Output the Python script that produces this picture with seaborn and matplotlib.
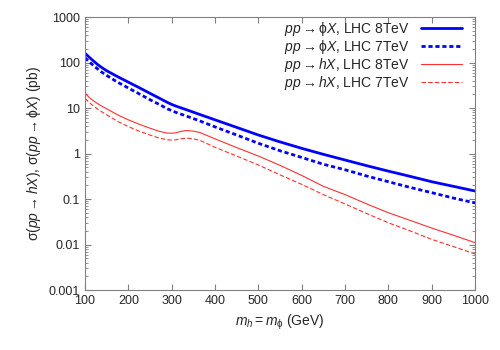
import numpy as np
import pandas as pd
import matplotlib
matplotlib.use('Agg')
import matplotlib.pyplot as plt
import seaborn as sns

# masas (GeV) y secciones eficaces (pb)
mass_phi = [100, 110, 120, 130, 140, 150, 175, 200, 225, 250, 275, 290, 300, 310,
            335, 365, 400, 450, 500, 550, 600, 650, 700, 750, 800, 850, 900,
            950, 1000]
phi_8tev = [160, 130, 107, 89, 76, 66, 49, 37, 28, 21, 15.8, 13.3, 12.0, 11.0,
            9.1, 7.2, 5.5, 3.75, 2.55, 1.8, 1.3, 0.96, 0.72, 0.54, 0.41, 0.315,
            0.24, 0.19, 0.15]
phi_7tev = [127, 103, 85, 71, 60, 52, 37, 27.5, 20.5, 15.2, 11.5, 9.6, 8.8, 8.0,
            6.6, 5.2, 3.85, 2.55, 1.68, 1.15, 0.82, 0.58, 0.44, 0.32, 0.24, 0.18,
            0.138, 0.105, 0.082]

mass_h = [100, 110, 120, 130, 140, 150, 175, 200, 225, 250, 270, 290, 300, 310,
          320, 335, 350, 365, 400, 450, 500, 550, 600, 650, 700, 750, 800, 850,
          900, 950, 1000]
h_8tev = [21, 17, 14.3, 12.3, 10.8, 9.6, 7.1, 5.5, 4.4, 3.6, 3.1, 2.8, 2.8, 2.85,
          3.05, 3.2, 3.1, 2.9, 2.1, 1.35, 0.88, 0.55, 0.33, 0.19, 0.125, 0.078,
          0.05, 0.034, 0.023, 0.016, 0.011]
h_7tev = [16.3, 13.1, 11, 9.3, 8.1, 7.1, 5.1, 3.9, 3.1, 2.55, 2.2, 2.0, 1.98, 2.0,
          2.1, 2.18, 2.1, 1.95, 1.37, 0.88, 0.56, 0.34, 0.21, 0.125, 0.078, 0.048,
          0.03, 0.02, 0.013, 0.009, 0.0062]

sns.set_style('ticks')
plt.rcParams['font.family'] = ['Liberation Sans', 'DejaVu Sans']
plt.rcParams['mathtext.fontset'] = 'custom'
plt.rcParams['mathtext.rm'] = 'Liberation Sans'
plt.rcParams['mathtext.it'] = 'Liberation Sans:italic'
plt.rcParams['font.size'] = 9

fig = plt.figure(figsize=(5, 3.5), dpi=100)
ax = fig.add_axes([0.17, 0.1714, 0.78, 0.78])

sns.lineplot(x=mass_phi, y=phi_8tev, ax=ax, color='#0000ff', lw=2.0,
             label=r'$pp \rightarrow \mathrm{\phi}X$, LHC 8TeV')
sns.lineplot(x=mass_phi, y=phi_7tev, ax=ax, color='#0000ff', lw=2.0,
             label=r'$pp \rightarrow \mathrm{\phi}X$, LHC 7TeV')
sns.lineplot(x=mass_h, y=h_8tev, ax=ax, color='#ff3030', lw=0.8,
             label=r'$pp \rightarrow hX$, LHC 8TeV')
sns.lineplot(x=mass_h, y=h_7tev, ax=ax, color='#ff3030', lw=0.8,
             label=r'$pp \rightarrow hX$, LHC 7TeV')
ax.lines[1].set_dashes((1.5, 1.0))
ax.lines[3].set_dashes((4, 2))

ax.set_yscale('log')
ax.set_xlim(100, 1000)
ax.set_ylim(0.001, 1000)
ax.set_xticks(range(100, 1001, 100))
ax.set_yticks([0.001, 0.01, 0.1, 1, 10, 100, 1000])
ax.set_yticklabels(['0.001', '0.01', '0.1', '1', '10', '100', '1000'])
ax.tick_params(which='both', direction='in', top=True, right=True, color='#808080')
ax.tick_params(which='major', length=4)
ax.tick_params(which='minor', length=2)
for s in ax.spines.values():
    s.set_color('#808080')
    s.set_linewidth(0.8)

ax.set_xlabel(r'$m_h = m_{\mathrm{\phi}}$ (GeV)', fontsize=10)
ax.set_ylabel(r'σ($pp \rightarrow hX$), σ($pp \rightarrow \mathrm{\phi}X$) (pb)',
              fontsize=10)

# leyenda sin marco, texto a la izquierda y linea a la derecha
ax.legend(loc='upper right', bbox_to_anchor=(0.975, 1.0), frameon=False,
          markerfirst=False, handlelength=3.0, labelspacing=0.0,
          borderaxespad=0.1, borderpad=0.1, handletextpad=0.8, fontsize=10)

fig.savefig('out.png', dpi=100)
